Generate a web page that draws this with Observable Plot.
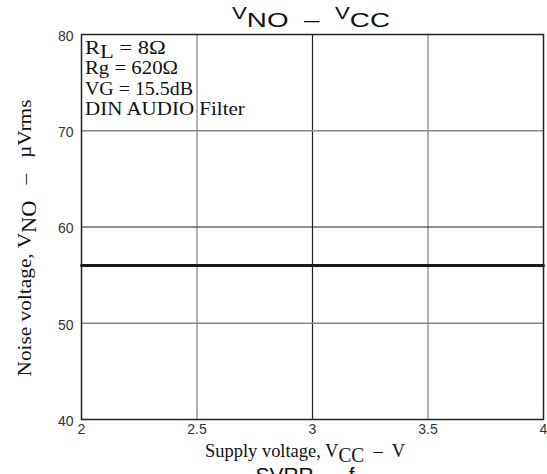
<!DOCTYPE html>
<html><head><meta charset="utf-8">
<script src="https://cdn.jsdelivr.net/npm/d3@7"></script>
<script src="https://cdn.jsdelivr.net/npm/@observablehq/plot@0.6"></script>
<style>body{margin:0;background:#fff}svg{display:block}</style>
</head><body><div id="chart"></div>
<script>
const supplyV = [2, 4];
const noiseV = [56, 56];
const xTicks = [2, 2.5, 3, 3.5, 4];
const yTicks = [40, 50, 60, 70, 80];
const xGridMajor = [3];
const xGridMinor = [2.5, 3.5];
const yGridMajor = [60];
const yGridMinor = [50, 70];
const notes = ["R|L| = 8Ω", "Rg = 620Ω", "VG = 15.5dB", "DIN AUDIO Filter"];

const pts = supplyV.map((x, i) => ({x, y: noiseV[i]}));

const chart = Plot.plot({
  width: 547, height: 474,
  marginLeft: 81, marginRight: 4, marginTop: 34, marginBottom: 55,
  style: {fontFamily: "Liberation Sans, Arial, sans-serif", fontSize: "14px", background: "#fff", color: "#333"},
  x: {domain: [2, 4], ticks: xTicks, label: null},
  y: {domain: [40, 80], ticks: yTicks, label: null},
  marks: [
    Plot.ruleX(xGridMinor, {stroke: "#888", strokeWidth: 1.3}),
    Plot.ruleX(xGridMajor, {stroke: "#222", strokeWidth: 1.2}),
    Plot.ruleY(yGridMinor, {stroke: "#888", strokeWidth: 1.3}),
    Plot.ruleY(yGridMajor, {stroke: "#222", strokeWidth: 1.2}),
    Plot.line(pts, {x: "x", y: "y", stroke: "#1a1a1a", strokeWidth: 3}),
    Plot.frame({stroke: "#222", strokeWidth: 1.5}),
    Plot.axisX({ticks: xTicks, tickSize: 0, tickPadding: 5, label: null, tickFormat: d => String(d), fill: "#333"}),
    Plot.axisY({ticks: yTicks, tickSize: 0, tickPadding: 8, label: null, tickFormat: d => String(d), fill: "#333", dy: 2})
  ]
});
document.getElementById("chart").appendChild(chart);

const svg = d3.select(chart);
const serif = "Liberation Serif, Times New Roman, serif";
const sans = "Liberation Sans, Arial, sans-serif";

// stretch a text horizontally (in its own frame) to a target length
function fit(sel, target, base) {
  const w = sel.node().getComputedTextLength();
  const s = target / w;
  sel.attr("transform", `${base} scale(${s},1)`).attr("x", 0).attr("y", 0);
}

// Title
const t = svg.append("text").attr("text-anchor", "start")
  .attr("font-family", sans).attr("font-size", 20).attr("fill", "#111");
t.append("tspan").attr("font-size", 16).attr("dy", -8).text("V");
t.append("tspan").attr("dy", 8).text("NO  –  ");
t.append("tspan").attr("font-size", 16).attr("dy", -8).text("V");
t.append("tspan").attr("dy", 8).text("CC");
fit(t, 158, "translate(232,27)");

// Annotation lines
const noteW = [80, 93, 108, 160];
notes.forEach((s, i) => {
  const el = svg.append("text").attr("text-anchor", "start")
    .attr("font-family", serif).attr("font-size", 18).attr("fill", "#111");
  const parts = s.split("|");
  if (parts.length === 3) {
    el.append("tspan").text(parts[0]);
    el.append("tspan").attr("dy", 4).text(parts[1]);
    el.append("tspan").attr("dy", -4).text(parts[2]);
  } else el.text(s);
  fit(el, noteW[i], `translate(85,${54 + i * 20.4})`);
});

// Y label
const yl = svg.append("text").attr("text-anchor", "middle")
  .attr("font-family", serif).attr("font-size", 19).attr("fill", "#111");
yl.append("tspan").text("Noise voltage, V");
yl.append("tspan").attr("dy", 5).attr("font-size", 20).text("NO");
yl.append("tspan").attr("dy", -5).text("   –   µVrms");
fit(yl, 277, "translate(31,238) rotate(-90)");

// X label
const xl = svg.append("text").attr("text-anchor", "middle")
  .attr("font-family", serif).attr("font-size", 19).attr("fill", "#111");
xl.append("tspan").text("Supply voltage, V");
xl.append("tspan").attr("dy", 5).attr("font-size", 20).text("CC");
xl.append("tspan").attr("dy", -5).text("  –  V");
fit(xl, 200, "translate(305,457)");

// Next chart's title, cut off at the bottom
svg.append("text").attr("x", 305).attr("y", 482).attr("text-anchor", "middle")
  .attr("font-family", sans).attr("font-size", 21).attr("fill", "#111").text("SVRR  –  f");
</script></body></html>
